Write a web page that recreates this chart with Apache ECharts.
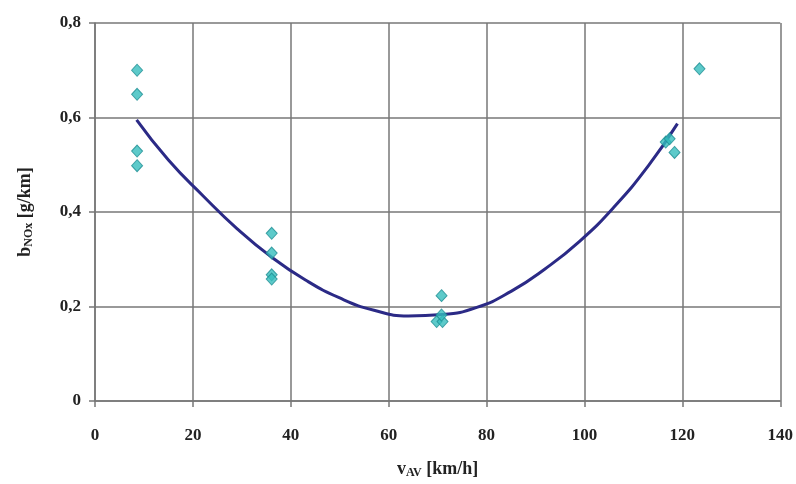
<!DOCTYPE html>
<html>
<head>
<meta charset="utf-8">
<script src="https://cdn.jsdelivr.net/npm/echarts@6/dist/echarts.min.js"></script>
<style>html,body{margin:0;padding:0;background:#fff;}#c{width:796px;height:484px;}</style>
</head>
<body>
<div id="c"></div>
<script>
// Measured points: speed [km/h] and NOx emission [g/km]
var pointX = [8.6, 8.6, 8.6, 8.6, 36.1, 36.1, 36.1, 36.1, 70.8, 69.8, 71.0, 70.8, 116.6, 117.4, 118.4, 123.5];
var pointY = [0.700, 0.649, 0.529, 0.498, 0.355, 0.313, 0.267, 0.258, 0.223, 0.168, 0.168, 0.182, 0.548, 0.555, 0.526, 0.703];
// Trend curve
var trendX = [8.5, 15, 22, 29, 36, 43, 50, 57, 64, 71, 78, 85, 92, 99, 106, 113, 119];
var trendY = [0.595, 0.51, 0.435, 0.365, 0.305, 0.256, 0.218, 0.192, 0.180, 0.183, 0.198, 0.232, 0.28, 0.338, 0.41, 0.497, 0.587];
// Axis ticks
var xTicks = [0, 20, 40, 60, 80, 100, 120, 140];
var yTicks = [0, 0.2, 0.4, 0.6, 0.8];

var pts = pointX.map(function (x, i) { return [x, pointY[i]]; });
var trend = trendX.map(function (x, i) { return [x, trendY[i]]; });

var font = '"Liberation Serif", "Times New Roman", serif';
var chart = echarts.init(document.getElementById('c'));
chart.setOption({
  animation: false,
  backgroundColor: '#fff',
  grid: { left: 95, right: 15, top: 23, bottom: 80 },
  xAxis: {
    type: 'value', min: xTicks[0], max: xTicks[xTicks.length - 1], interval: 20,
    name: '{m|v}{s|AV}{m| [km/h]}', nameLocation: 'middle', nameGap: 58,
    nameTextStyle: {
      rich: {
        m: { fontFamily: font, fontWeight: 'bold', fontSize: 18, color: '#222' },
        s: { fontFamily: font, fontWeight: 'bold', fontSize: 12, color: '#222', padding: [8, 0, 0, 0] }
      }
    },
    axisLine: { show: true, lineStyle: { color: '#777', width: 1.5 } },
    axisTick: { show: true, length: 6, lineStyle: { color: '#777', width: 1.5 } },
    axisLabel: { margin: 26, fontFamily: font, fontWeight: 'bold', fontSize: 17, color: '#222' },
    splitLine: { show: true, lineStyle: { color: '#777', width: 1.5 } }
  },
  yAxis: {
    type: 'value', min: yTicks[0], max: yTicks[yTicks.length - 1], interval: 0.2,
    name: '{m|b}{s|NOx}{m| [g/km]}', nameLocation: 'middle', nameGap: 60, nameRotate: 90,
    nameTextStyle: {
      rich: {
        m: { fontFamily: font, fontWeight: 'bold', fontSize: 18, color: '#222' },
        s: { fontFamily: font, fontWeight: 'bold', fontSize: 12, color: '#222', padding: [8, 0, 0, 0] }
      }
    },
    axisLine: { show: true, lineStyle: { color: '#777', width: 1.5 } },
    axisTick: { show: true, length: 6, lineStyle: { color: '#777', width: 1.5 } },
    axisLabel: {
      margin: 14, fontFamily: font, fontWeight: 'bold', fontSize: 17, color: '#222',
      formatter: function (v) { return v === 0 ? '0' : v.toFixed(1).replace('.', ','); }
    },
    splitLine: { show: true, lineStyle: { color: '#777', width: 1.5 } }
  },
  series: [
    {
      type: 'line', data: trend, smooth: 0.5, showSymbol: false, z: 2,
      lineStyle: { color: '#2b2a86', width: 3 }
    },
    {
      type: 'scatter', data: pts, symbol: 'diamond', symbolSize: [11, 12], z: 3,
      itemStyle: { color: '#35bdbd', borderColor: '#1f8f94', borderWidth: 1 }
    }
  ]
});
</script>
</body>
</html>
